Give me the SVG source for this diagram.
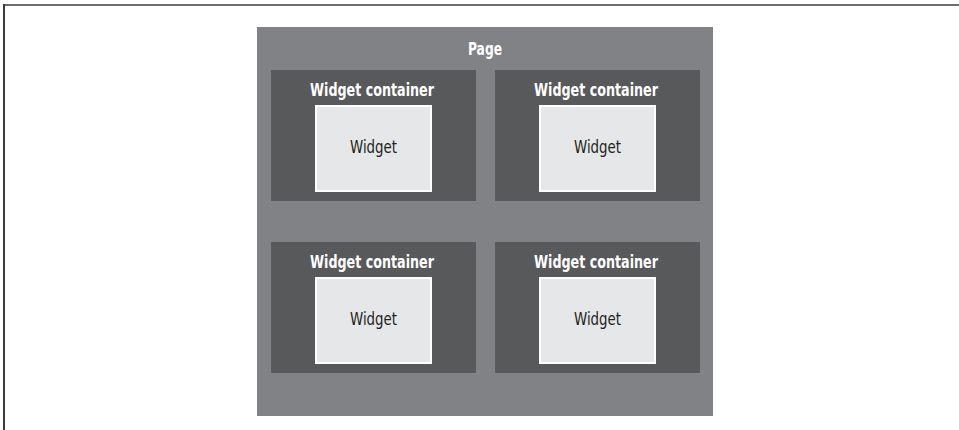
<svg xmlns="http://www.w3.org/2000/svg" width="959" height="430" viewBox="0 0 959 430">
<style>
.frame{stroke-width:2;fill:none}
.page{fill:#808285}
.cont{fill:#58595b}
.wid{fill:#e6e7e8;stroke:#ffffff;stroke-width:2}
.t{font-family:"DejaVu Sans Condensed","Liberation Sans Narrow","Liberation Sans",sans-serif;text-anchor:middle}
.tb{font-weight:bold;fill:#ffffff;font-size:18px}
.tw{fill:#231f20;font-size:17px}
</style>
<line x1="4" y1="5" x2="959" y2="5" class="frame" stroke="#6d6e71"/>
<line x1="4" y1="4" x2="4" y2="430" class="frame" stroke="#3a3a3c"/>
<g id="page">
<rect class="page" x="257" y="27" width="456" height="389"/>
<text class="t tb" x="485" y="55" textLength="34" lengthAdjust="spacingAndGlyphs">Page</text>
</g>
<g id="container1">
<rect class="cont" x="271" y="70" width="205" height="131"/>
<text class="t tb" x="372" y="96" textLength="124" lengthAdjust="spacingAndGlyphs">Widget container</text>
<g id="widget1"><rect class="wid" x="316" y="106" width="115" height="85"/>
<text class="t tw" x="373.5" y="153" textLength="47" lengthAdjust="spacingAndGlyphs">Widget</text></g>
</g>
<g id="container2">
<rect class="cont" x="495" y="70" width="205" height="131"/>
<text class="t tb" x="596" y="96" textLength="124" lengthAdjust="spacingAndGlyphs">Widget container</text>
<g id="widget2"><rect class="wid" x="540" y="106" width="115" height="85"/>
<text class="t tw" x="597.5" y="153" textLength="47" lengthAdjust="spacingAndGlyphs">Widget</text></g>
</g>
<g id="container3">
<rect class="cont" x="271" y="242" width="205" height="131"/>
<text class="t tb" x="372" y="268" textLength="124" lengthAdjust="spacingAndGlyphs">Widget container</text>
<g id="widget3"><rect class="wid" x="316" y="278" width="115" height="85"/>
<text class="t tw" x="373.5" y="325" textLength="47" lengthAdjust="spacingAndGlyphs">Widget</text></g>
</g>
<g id="container4">
<rect class="cont" x="495" y="242" width="205" height="131"/>
<text class="t tb" x="596" y="268" textLength="124" lengthAdjust="spacingAndGlyphs">Widget container</text>
<g id="widget4"><rect class="wid" x="540" y="278" width="115" height="85"/>
<text class="t tw" x="597.5" y="325" textLength="47" lengthAdjust="spacingAndGlyphs">Widget</text></g>
</g>
<g id="connectors"/>
</svg>
